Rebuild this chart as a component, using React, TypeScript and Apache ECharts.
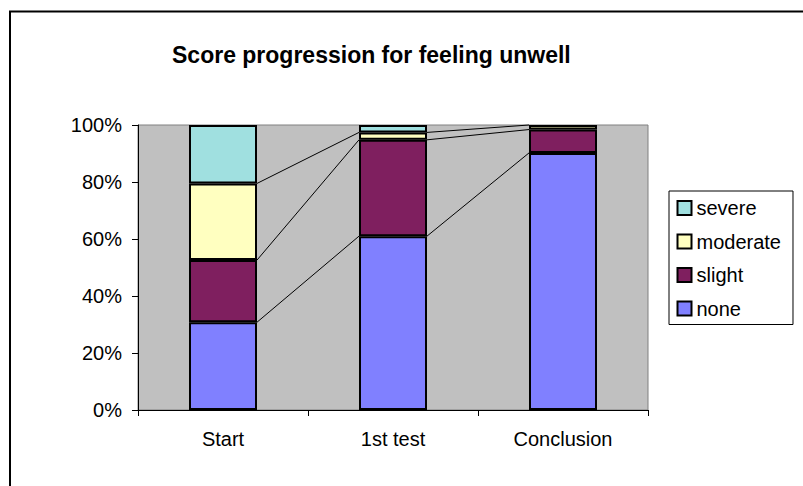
import React, { useEffect, useRef } from "react";
import * as echarts from "echarts";

const categories = ["Start", "1st test", "Conclusion"];
const noneVals = [30.8, 61.0, 90.2];
const slightVals = [21.8, 33.8, 8.2];
const moderateVals = [26.9, 2.6, 1.6];
const severeVals = [20.5, 2.6, 0];
const yTicks = [0, 20, 40, 60, 80, 100];

const FONT = "'Liberation Sans', Arial, sans-serif";

export default function App() {
  const ref = useRef<HTMLDivElement>(null);
  useEffect(() => {
    document.body.style.margin = "0";
    const chart = echarts.init(ref.current!, null, { renderer: "svg" });
    const stacks = [noneVals, slightVals, moderateVals];
    const cum: number[][] = [];
    let run = categories.map(() => 0);
    stacks.forEach((s) => {
      run = run.map((v, i) => v + s[i]);
      cum.push(run.slice());
    });
    const lineData: number[][] = [];
    cum.forEach((c) => {
      for (let i = 0; i < categories.length - 1; i++) {
        lineData.push([i, c[i], c[i + 1]]);
      }
    });
    const bar = (name: string, data: number[], color: string) => ({
      name,
      type: "bar",
      stack: "total",
      barWidth: "40%",
      data: data.map((v) => (v === 0 ? null : v)),
      itemStyle: { color, borderColor: "#000", borderWidth: 2 },
    });
    chart.setOption({
      animation: false,
      textStyle: { fontFamily: FONT, color: "#000" },
      title: {
        text: "Score progression for feeling unwell",
        left: 172,
        top: 42,
        padding: 0,
        textStyle: { fontFamily: FONT, fontSize: 23, fontWeight: "bold", color: "#000", lineHeight: 26 },
      },
      legend: {
        orient: "vertical",
        left: 669,
        top: 191,
        padding: [7, 12, 6, 7.5],
        itemGap: 13.5,
        itemWidth: 14,
        itemHeight: 14,
        backgroundColor: "#fff",
        borderColor: "#000",
        borderWidth: 1,
        borderRadius: 0,
        data: ["severe", "moderate", "slight", "none"],
        textStyle: { fontFamily: FONT, fontSize: 20, color: "#000", lineHeight: 20, padding: [0, 0, 0, 0] },
        icon: "rect",
      },
      grid: {
        left: 138,
        right: 155,
        top: 125,
        bottom: 76,
        show: true,
        backgroundColor: "#C0C0C0",
        borderColor: "#808080",
        borderWidth: 1,
      },
      xAxis: {
        type: "category",
        data: categories,
        axisLine: { lineStyle: { color: "#000", width: 1 } },
        axisTick: { show: true, length: 6, lineStyle: { color: "#000" } },
        axisLabel: { fontFamily: FONT, fontSize: 20, color: "#000", margin: 19 },
      },
      yAxis: {
        type: "value",
        min: yTicks[0],
        max: yTicks[yTicks.length - 1],
        interval: 20,
        splitLine: { show: false },
        axisLine: { show: true, lineStyle: { color: "#000", width: 1 } },
        axisTick: { show: true, length: 6, lineStyle: { color: "#000" } },
        axisLabel: { fontFamily: FONT, fontSize: 20, color: "#000", margin: 16, formatter: "{value}%" },
      },
      graphic: [
        {
          type: "polyline",
          shape: { points: [[10, 486], [10, 11.5], [803, 11.5]] },
          style: { stroke: "#000", lineWidth: 2, fill: "none" },
        },
      ],
      series: [
        bar("none", noneVals, "#8080FF"),
        bar("slight", slightVals, "#7F1F5F"),
        bar("moderate", moderateVals, "#FFFFC0"),
        bar("severe", severeVals, "#A0E0E0"),
        {
          type: "custom",
          name: "serieslines",
          data: lineData,
          encode: { x: 0, y: 1 },
          silent: true,
          renderItem: (params: any, api: any) => {
            const i = api.value(0);
            const p1 = api.coord([i, api.value(1)]);
            const p2 = api.coord([i + 1, api.value(2)]);
            const bw = api.size([1, 0])[0] * 0.4;
            return {
              type: "line",
              shape: { x1: p1[0] + bw / 2, y1: p1[1], x2: p2[0] - bw / 2, y2: p2[1] },
              style: { stroke: "#000", lineWidth: 1 },
            };
          },
        },
      ],
    });
    return () => chart.dispose();
  }, []);
  return <div ref={ref} style={{ width: 803, height: 486 }} />;
}
